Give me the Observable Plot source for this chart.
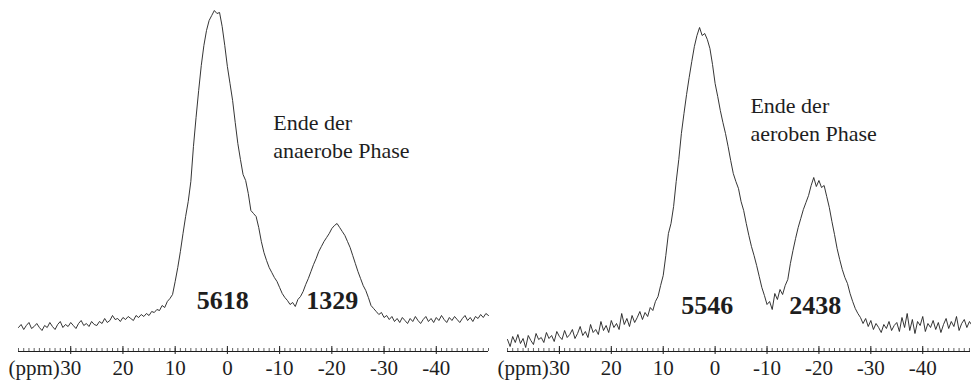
<!DOCTYPE html>
<html><head><meta charset="utf-8">
<script src="https://cdn.jsdelivr.net/npm/d3@7"></script>
<script src="https://cdn.jsdelivr.net/npm/@observablehq/plot@0.6"></script>
<style>
html,body{margin:0;padding:0;background:#fff;overflow:hidden}
#wrap{position:relative;width:971px;height:382px;overflow:hidden}
#wrap svg{position:absolute;top:0;font-family:"Liberation Serif","Times New Roman",serif}
#wrap svg text{font-family:"Liberation Serif","Times New Roman",serif}
</style></head><body><div id="wrap"></div>
<script>
// chemical shift (ppm), sampled every 0.5 ppm
const ppm = [
  40,39.5,39,38.5,38,37.5,37,36.5,36,35.5,35,34.5,34,33.5,33,32.5,32,31.5,31,30.5,
  30,29.5,29,28.5,28,27.5,27,26.5,26,25.5,25,24.5,24,23.5,23,22.5,22,21.5,21,20.5,
  20,19.5,19,18.5,18,17.5,17,16.5,16,15.5,15,14.5,14,13.5,13,12.5,12,11.5,11,10.5,
  10,9.5,9,8.5,8,7.5,7,6.5,6,5.5,5,4.5,4,3.5,3,2.5,2,1.5,1,0.5,
  0,-0.5,-1,-1.5,-2,-2.5,-3,-3.5,-4,-4.5,-5,-5.5,-6,-6.5,-7,-7.5,-8,-8.5,-9,-9.5,
  -10,-10.5,-11,-11.5,-12,-12.5,-13,-13.5,-14,-14.5,-15,-15.5,-16,-16.5,-17,-17.5,-18,-18.5,-19,-19.5,
  -20,-20.5,-21,-21.5,-22,-22.5,-23,-23.5,-24,-24.5,-25,-25.5,-26,-26.5,-27,-27.5,-28,-28.5,-29,-29.5,
  -30,-30.5,-31,-31.5,-32,-32.5,-33,-33.5,-34,-34.5,-35,-35.5,-36,-36.5,-37,-37.5,-38,-38.5,-39,-39.5,
  -40,-40.5,-41,-41.5,-42,-42.5,-43,-43.5,-44,-44.5,-45,-45.5,-46,-46.5,-47,-47.5,-48,-48.5,-49,-49.5,
  -50
];
// signal intensity, end of anaerobic phase
const anaerobIntensity = [
  24,27,22,26,29,23,25,28,24,21,26,24,29,25,22,27,30,24,27,25,
  29,26,23,28,31,26,28,25,30,27,26,30,28,33,29,31,36,32,33,30,
  34,32,35,33,31,36,34,37,35,38,36,40,39,42,41,46,44,50,53,57,
  70,84,100,118,135,150,170,205,234,261,286,306,321,331,336,341,338,339,325,306,
  285,268,251,229,208,192,177,171,158,141,138,135,124,110,99,91,84,79,74,70,
  64,58,54,51,47,49,45,52,55,60,67,73,80,87,93,100,105,110,114,118,
  123,126,128,124,120,116,110,104,96,88,80,73,66,61,54,46,43,40,37,39,
  34,36,32,35,30,33,29,34,31,28,33,30,35,31,28,32,35,30,33,29,
  34,31,36,32,29,34,31,35,32,29,33,36,31,34,30,35,33,37,34,38,
  36
];
// signal intensity, end of aerobic phase
const aerobIntensity = [
  12,5,15,9,17,8,13,4,16,11,7,18,12,14,9,19,13,16,10,20,
  15,12,21,14,17,22,13,18,25,16,20,14,27,19,22,17,30,21,26,19,
  31,24,28,22,38,27,33,25,36,29,34,40,32,39,35,44,41,50,55,66,
  76,96,118,128,145,170,192,218,238,257,274,290,305,316,324,316,318,312,303,287,
  268,255,241,229,218,205,191,178,170,163,150,141,128,116,105,96,86,75,64,56,
  47,50,42,58,52,62,57,66,72,88,101,113,124,133,142,149,156,166,174,165,
  171,164,166,155,144,130,117,103,92,82,74,68,58,50,43,38,34,28,33,25,
  31,22,28,24,19,27,23,30,21,26,29,20,34,24,38,21,32,18,30,26,
  35,20,28,24,31,22,29,19,27,33,23,30,25,35,21,28,32,24,30,26,
  28
];
const tickValues = [30,20,10,0,-10,-20,-30,-40];
const tickLabels = ["30","20","10","0","-10","-20","-30","-40"];
const anaerobTitle = "Ende der\nanaerobe Phase";
const aerobTitle = "Ende der\naeroben Phase";
const anaerobPeakNames = ["5618","1329"];
const anaerobPeakPpm = [0.9,-20.1];
const aerobPeakNames = ["5546","2438"];
const aerobPeakPpm = [1.5,-19.3];

const SERIF = '"Liberation Serif","Times New Roman",serif';
const INK = "#1e1e1e";

function panel({width, left, marginLeft, marginRight, xDomain, values, title, titleX, titleY, peakNames, peakPpm, peakY}) {
  const data = ppm.map((p, i) => ({ppm: p, I: values[i]}));
  const minor = d3.range(40, -51, -1).filter(d => d <= xDomain[0] && d >= xDomain[1]);
  const peaks = peakNames.map((n, i) => ({label: n, ppm: peakPpm[i]}));
  const svg = Plot.plot({
    width, height: 382, marginLeft, marginRight, marginTop: 10, marginBottom: 31,
    x: {domain: xDomain, axis: null},
    y: {domain: [0, 341], axis: null},
    style: {background: "#fff"},
    marks: [
      Plot.ruleY([0], {stroke: INK, strokeWidth: 1}),
      Plot.ruleX(minor, {x: d => d, y1: 0, y2: 3, stroke: INK, strokeWidth: 0.7}),
      Plot.ruleX(tickValues, {x: d => d, y1: -3, y2: 5, stroke: INK, strokeWidth: 1}),
      Plot.text(tickValues, {x: d => d, y: -17, text: (d, i) => tickLabels[i], fontSize: 21, fontFamily: SERIF, fill: INK, lineAnchor: "middle"}),
      Plot.text(["(ppm)"], {x: xDomain[0], y: -17, dx: -10, text: d => d, textAnchor: "start", fontSize: 21, fontFamily: SERIF, fill: INK, lineAnchor: "middle"}),
      Plot.line(data, {x: "ppm", y: "I", stroke: INK, strokeWidth: 0.9}),
      Plot.text([title], {x: titleX, y: titleY, text: d => d, textAnchor: "start", lineAnchor: "top", fontSize: 22, fontFamily: SERIF, lineHeight: 1.28, fill: INK}),
      Plot.text(peaks, {x: "ppm", y: peakY, text: "label", fontSize: 26, fontFamily: SERIF, fontWeight: "bold", fill: INK, lineAnchor: "middle"})
    ]
  });
  svg.style.left = left + "px";
  return svg;
}

const wrap = document.getElementById("wrap");
wrap.appendChild(panel({
  width: 490, left: 0, marginLeft: 18, marginRight: 2, xDomain: [40, -50],
  values: anaerobIntensity, title: anaerobTitle, titleX: -8.8, titleY: 242,
  peakNames: anaerobPeakNames, peakPpm: anaerobPeakPpm, peakY: 51
}));
wrap.appendChild(panel({
  width: 481, left: 490, marginLeft: 17, marginRight: 1, xDomain: [40, -49.2],
  values: aerobIntensity, title: aerobTitle, titleX: -6.8, titleY: 259,
  peakNames: aerobPeakNames, peakPpm: aerobPeakPpm, peakY: 46
}));
</script>
</body></html>
